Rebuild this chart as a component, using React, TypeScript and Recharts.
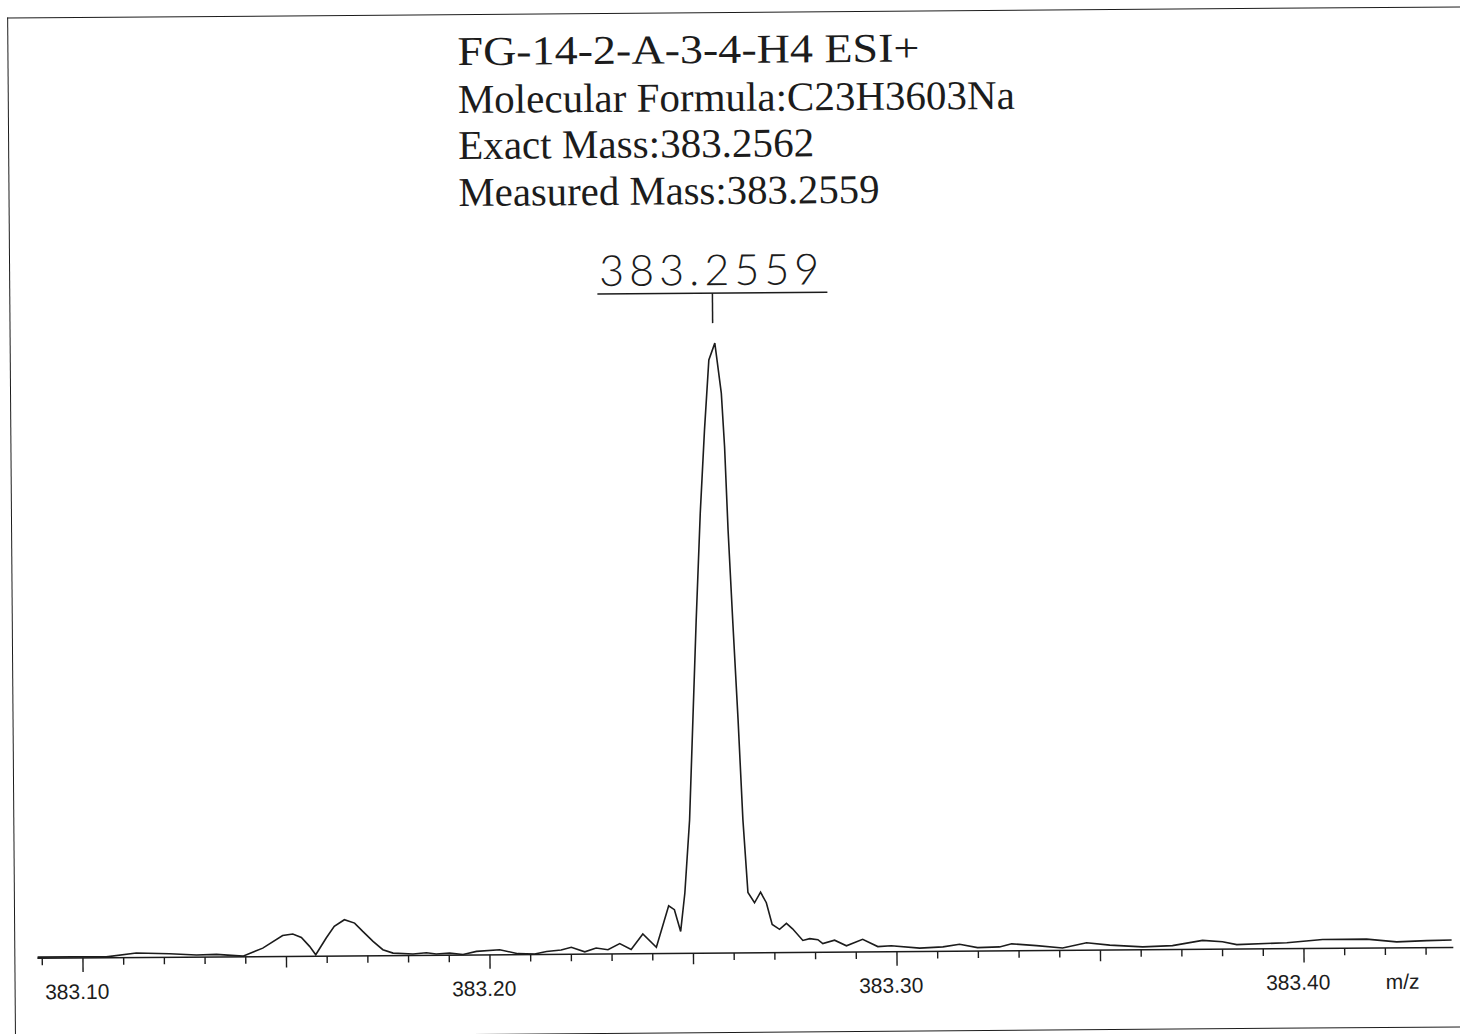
import { LineChart, Line, XAxis, YAxis, ReferenceDot } from "recharts";

// m/z positions and relative intensities (%)
const mzValues = [
  383.0888, 383.0975, 383.1057, 383.1131, 383.1213, 383.1279, 383.1328, 383.1393,
  383.1442, 383.1491, 383.1516, 383.1537, 383.1557, 383.1572, 383.1598, 383.1618,
  383.1643, 383.1668, 383.1688, 383.1713, 383.1737, 383.1762, 383.1811, 383.1844,
  383.1868, 383.1901, 383.1934, 383.1967, 383.2024, 383.2069, 383.211, 383.2139,
  383.2175, 383.22, 383.2233, 383.2261, 383.229, 383.2319, 383.2347, 383.2376,
  383.2409, 383.244, 383.2454, 383.2469, 383.248, 383.2493, 383.2503, 383.2513,
  383.2525, 383.2537, 383.2549, 383.2564, 383.2579, 383.2586, 383.2593, 383.2603,
  383.2614, 383.2624, 383.2635, 383.2651, 383.2666, 383.268, 383.2694, 383.2712,
  383.2729, 383.2744, 383.2769, 383.2786, 383.2806, 383.2818, 383.2847, 383.2876,
  383.2916, 383.2953, 383.2986, 383.3056, 383.3113, 383.3154, 383.3198, 383.3252,
  383.3282, 383.3343, 383.3407, 383.3466, 383.3523, 383.3604, 383.3677, 383.3751,
  383.38, 383.3835, 383.3958, 383.4046, 383.4154, 383.4228, 383.4302, 383.4363,
];

const intensities = [
  0.2, 0.2, 0.15, 0.74, 0.59, 0.34, 0.42, 0.1,
  1.39, 3.44, 3.66, 3.1, 1.62, 0.24, 2.96, 4.87,
  5.94, 5.38, 4.0, 2.35, 0.98, 0.41, 0.23, 0.43,
  0.2, 0.34, 0.1, 0.59, 0.82, 0.16, 0.08, 0.49,
  0.7, 1.15, 0.38, 0.98, 0.7, 1.69, 0.7, 3.23,
  1.03, 7.82, 7.17, 3.6, 9.89, 21.85, 38.25, 54.64,
  72.13, 85.79, 97.26, 100, 91.8, 83.05, 69.39, 54.15,
  38.25, 21.85, 9.89, 8.2, 9.93, 8.2, 4.64, 3.82,
  4.8, 3.89, 1.97, 2.25, 2.08, 1.43, 1.97, 1.03,
  2.08, 0.87, 0.98, 0.57, 0.74, 1.15, 0.57, 0.66,
  1.15, 0.82, 0.41, 1.23, 0.82, 0.49, 0.66, 1.48,
  1.23, 0.74, 0.98, 1.48, 1.48, 0.98, 1.15, 1.23,
];

const tickValues = [
  383.09, 383.1, 383.11, 383.12, 383.13, 383.14, 383.15, 383.16, 383.17, 383.18,
  383.19, 383.2, 383.21, 383.22, 383.23, 383.24, 383.25, 383.26, 383.27, 383.28,
  383.29, 383.3, 383.31, 383.32, 383.33, 383.34, 383.35, 383.36, 383.37, 383.38,
  383.39, 383.4, 383.41, 383.42, 383.43,
];
const tickLabels = ["383.10", "383.20", "383.30", "383.40"];

const headerLines = [
  "FG-14-2-A-3-4-H4 ESI+",
  "Molecular Formula:C23H3603Na",
  "Exact Mass:383.2562",
  "Measured Mass:383.2559",
];
const peakMz = 383.2559;
const peakLabel = "383.2559";
const unitLabel = "m/z";

const INK = "#1c1c1c";
const headerBaselines = [63, 111, 157, 204];
const headerWidths = [462, 557, 356, 421];

const data = mzValues.map((mz, i) => ({ mz, intensity: intensities[i] }));

const MzTick = (props: any) => {
  const { x, y, payload } = props;
  const h = Math.round(payload.value * 100);
  const len = h % 10 === 0 ? 14 : h % 5 === 0 ? 11 : 7;
  const label = tickLabels.find((t) => t === payload.value.toFixed(2));
  return (
    <g>
      <line x1={x} y1={y} x2={x} y2={y + len} stroke={INK} strokeWidth={1.4} />
      {label && (
        <text
          x={x - 6}
          y={y + 41}
          textAnchor="middle"
          fontSize={21}
          fontFamily="'Liberation Sans', Arial, sans-serif"
          fill={INK}
        >
          {label}
        </text>
      )}
    </g>
  );
};

const UnitLabel = (props: any) => {
  const vb = props.viewBox;
  return (
    <text
      x={vb.x + vb.width - 51}
      y={vb.y + 41}
      textAnchor="middle"
      fontSize={21}
      fontFamily="'Liberation Sans', Arial, sans-serif"
      fill={INK}
    >
      {unitLabel}
    </text>
  );
};

const PeakMarker = (props: any) => {
  const { cx, cy } = props;
  return (
    <g>
      <text
        x={cx - 3}
        y={cy - 58}
        textAnchor="middle"
        fontSize={43}
        fontWeight={300}
        fontFamily="Lato, 'DejaVu Sans', sans-serif"
        textLength={220}
        lengthAdjust="spacing"
        fill={INK}
      >
        {peakLabel}
      </text>
      <line x1={cx - 115} y1={cy - 50} x2={cx + 115} y2={cy - 50} stroke={INK} strokeWidth={1.5} />
      <line x1={cx} y1={cy - 50} x2={cx} y2={cy - 20} stroke={INK} strokeWidth={1.5} />
    </g>
  );
};

export default function App() {
  return (
    <div
      style={{
        position: "absolute",
        left: 0,
        top: 0,
        width: 1460,
        height: 1034,
        overflow: "hidden",
        background: "#fff",
      }}
    >
      {/* the scanned sheet is slightly tilted */}
      <div
        style={{
          position: "absolute",
          left: 0,
          top: 0,
          width: 1460,
          height: 1034,
          transform: "rotate(-0.44deg)",
          transformOrigin: "730px 517px",
        }}
      >
        <div
          style={{
            position: "absolute",
            left: 11,
            top: 12,
            width: 1480,
            height: 1019,
            borderLeft: `1.5px solid ${INK}`,
            borderTop: `1.5px solid ${INK}`,
            borderBottom: `1.5px solid ${INK}`,
          }}
        />
        <svg width={1460} height={240} style={{ position: "absolute", left: 0, top: 0 }}>
          {headerLines.map((t, i) => (
            <text
              key={t}
              x={461}
              y={headerBaselines[i]}
              fontSize={41}
              fontFamily="'Liberation Serif', 'DejaVu Serif', serif"
              textLength={headerWidths[i]}
              lengthAdjust="spacingAndGlyphs"
              fill={INK}
            >
              {t}
            </text>
          ))}
        </svg>
        <div style={{ position: "absolute", left: 0, top: 0 }}>
          <LineChart
            width={1460}
            height={1034}
            data={data}
            margin={{ top: 343, right: 10, bottom: 21, left: 34 }}
          >
            <XAxis
              dataKey="mz"
              type="number"
              domain={[383.0888, 383.4367]}
              allowDataOverflow
              ticks={tickValues}
              interval={0}
              tickLine={false}
              tickSize={0}
              tickMargin={0}
              tick={<MzTick />}
              axisLine={{ stroke: INK, strokeWidth: 1.5 }}
              height={60}
              label={<UnitLabel />}
            />
            <YAxis hide domain={[0, 100]} />
            <Line
              type="linear"
              dataKey="intensity"
              stroke={INK}
              strokeWidth={1.6}
              dot={false}
              isAnimationActive={false}
            />
            <ReferenceDot
              x={peakMz}
              y={100}
              r={0}
              ifOverflow="visible"
              shape={<PeakMarker />}
            />
          </LineChart>
        </div>
      </div>
    </div>
  );
}
